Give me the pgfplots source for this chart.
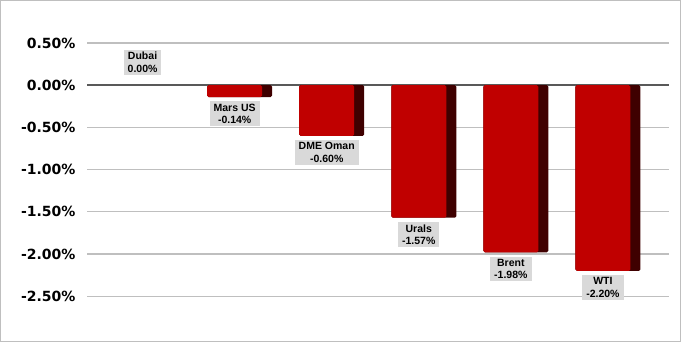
\documentclass[border=0pt]{standalone}
\usepackage{pgfplots}
\pgfplotsset{compat=1.18}
\usepackage{fontspec}
\setmainfont{Liberation Sans}
\newfontfamily\tickfont{DejaVu Sans}
\definecolor{barred}{HTML}{C00000}
\definecolor{barside}{HTML}{3F0000}
\definecolor{gridc}{HTML}{BFBFBF}
\definecolor{zeroc}{HTML}{595959}
\definecolor{lblbg}{HTML}{D9D9D9}
\begin{document}
\begin{tikzpicture}
\begin{axis}[
  at={(0,0)}, anchor=south west,
  scale only axis, width=582pt, height=253pt,
  xmin=-0.603, xmax=5.723,
  ymin=-2.5, ymax=0.5,
  ytick={-2.5,-2,-1.5,-1,-0.5,0,0.5},
  xtick=\empty,
  major tick length=0pt,
  axis line style={draw=none},
  ymajorgrids, grid style={color=gridc, line width=1.2pt},
  extra y ticks={0}, extra y tick labels={},
  extra y tick style={grid style={color=zeroc, line width=1.8pt}},
  /pgf/number format/assume math mode=true,
  yticklabel={\pgfmathprintnumber[fixed,fixed zerofill,precision=2]{\tick}\%},
  yticklabel style={font=\tickfont\bfseries\fontsize{14}{14}\selectfont, xshift=-8pt},
  clip=false,
]
\addplot[ybar, bar width=65pt, bar shift=5pt, fill=barside, draw=none, rounded corners=1.5pt]
  coordinates {(1,-0.14) (2,-0.60) (3,-1.57) (4,-1.98) (5,-2.20)};
\addplot[ybar, bar width=55pt, bar shift=0pt, fill=barred, draw=none, rounded corners=1.5pt]
  coordinates {(1,-0.14) (2,-0.60) (3,-1.57) (4,-1.98) (5,-2.20)};
\addplot[draw=none, mark=none, nodes near coords, point meta=explicit symbolic,
  nodes near coords align={below},
  every node near coord/.append style={fill=lblbg, text=black, font=\bfseries\fontsize{10.5}{12.5}\selectfont, align=center, inner xsep=4pt, inner ysep=2.5pt, yshift=-4pt}]
  coordinates {(1,-0.14) [{Mars US\\-0.14\%}] (2,-0.60) [{DME Oman\\-0.60\%}] (3,-1.57) [{Urals\\-1.57\%}] (4,-1.98) [{Brent\\-1.98\%}] (5,-2.20) [{WTI\\-2.20\%}]};
\addplot[draw=none, mark=none, nodes near coords, point meta=explicit symbolic,
  nodes near coords align={above},
  every node near coord/.append style={fill=lblbg, text=black, font=\bfseries\fontsize{10.5}{12.5}\selectfont, align=center, inner xsep=4pt, inner ysep=2.5pt, yshift=10pt}]
  coordinates {(0,0) [{Dubai\\0.00\%}]};
\end{axis}
\draw[gridc, line width=1pt] (-86.5pt,-45pt) rectangle (593pt,295.5pt);
\end{tikzpicture}
\end{document}
